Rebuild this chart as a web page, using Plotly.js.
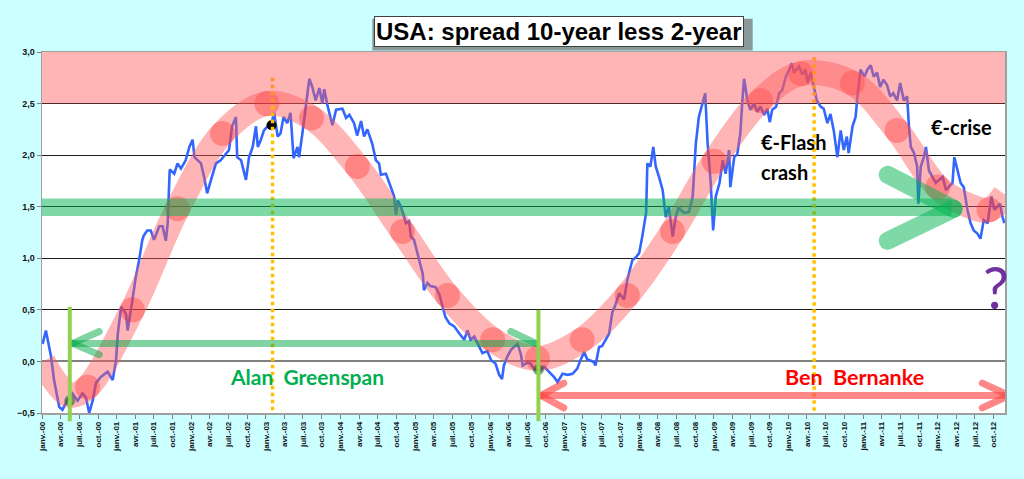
<!DOCTYPE html>
<html>
<head>
<meta charset="utf-8">
<script src="https://cdn.plot.ly/plotly-3.0.1.min.js"></script>
<style>
  html, body { margin: 0; padding: 0; background: #ccffff; }
  #chart { width: 1024px; height: 479px; }
</style>
</head>
<body>
<div id="chart"></div>
<script>
// ---------- DATA ----------
const spreadDates = [
 '2000-01-04','2000-01-20','2000-02-14','2000-02-29','2000-03-25','2000-04-10','2000-05-05','2000-05-29','2000-06-23','2000-07-17',
 '2000-08-03','2000-08-19','2000-09-05','2000-09-21','2000-10-15','2000-11-17','2000-12-12','2000-12-28','2001-01-06','2001-01-22',
 '2001-02-15','2001-02-23','2001-03-18','2001-04-04','2001-04-20','2001-05-06','2001-05-13','2001-05-30','2001-06-16','2001-07-02',
 '2001-07-28','2001-08-13','2001-08-29','2001-09-07','2001-09-15','2001-09-17','2001-10-09','2001-10-25','2001-11-11','2001-12-04',
 '2001-12-22','2002-01-07','2002-01-16','2002-02-01','2002-02-17','2002-03-04','2002-03-19','2002-04-07','2002-05-01','2002-05-24',
 '2002-06-19','2002-07-04','2002-07-19','2002-08-07','2002-08-13','2002-09-01','2002-09-25','2002-10-10','2002-10-28','2002-11-13',
 '2002-11-22','2002-12-07','2002-12-22','2003-01-09','2003-01-25','2003-02-10','2003-02-27','2003-03-13','2003-03-28','2003-04-15',
 '2003-05-01','2003-05-16','2003-06-04','2003-06-12','2003-06-28','2003-07-13','2003-08-01','2003-08-16','2003-09-01','2003-09-19',
 '2003-10-04','2003-10-13','2003-10-28','2003-11-22','2003-12-10','2004-01-10','2004-01-28','2004-02-13','2004-03-07','2004-03-22',
 '2004-04-10','2004-04-25','2004-05-11','2004-06-04','2004-06-22','2004-07-07','2004-07-16','2004-08-10','2004-08-25','2004-09-19',
 '2004-09-28','2004-10-07','2004-10-22','2004-11-16','2004-12-01','2004-12-10','2004-12-25','2005-01-19','2005-02-06','2005-02-12',
 '2005-03-01','2005-03-16','2005-04-10','2005-04-28','2005-05-13','2005-05-28','2005-06-16','2005-07-10','2005-08-04','2005-08-28',
 '2005-09-13','2005-09-28','2005-10-16','2005-11-10','2005-11-25','2005-12-19','2006-01-07','2006-01-28','2006-02-15','2006-03-01',
 '2006-03-10','2006-03-25','2006-04-13','2006-04-28','2006-05-16','2006-06-01','2006-06-10','2006-07-04','2006-07-19','2006-08-04',
 '2006-08-28','2006-09-22','2006-10-16','2006-11-10','2006-11-28','2006-12-22','2007-01-16','2007-02-09','2007-03-04','2007-03-19',
 '2007-04-07','2007-04-22','2007-05-07','2007-05-25','2007-06-01','2007-06-19','2007-07-04','2007-07-19','2007-08-07','2007-08-22',
 '2007-09-07','2007-09-25','2007-10-19','2007-11-04','2007-11-22','2007-11-28','2007-12-16','2008-01-01','2008-01-16','2008-02-04',
 '2008-02-10','2008-02-25','2008-03-10','2008-03-22','2008-04-07','2008-04-25','2008-05-10','2008-05-25','2008-06-13','2008-06-28',
 '2008-07-13','2008-07-22','2008-08-07','2008-09-01','2008-09-19','2008-10-04','2008-10-19','2008-11-07','2008-11-19','2008-12-01',
 '2008-12-16','2008-12-28','2009-01-10','2009-01-28','2009-02-13','2009-02-27','2009-03-16','2009-03-22','2009-04-10','2009-04-25',
 '2009-05-10','2009-05-19','2009-05-28','2009-06-04','2009-06-13','2009-06-28','2009-07-16','2009-08-01','2009-08-16','2009-09-04',
 '2009-09-19','2009-10-01','2009-10-13','2009-11-01','2009-11-16','2009-12-01','2009-12-19','2010-01-04','2010-01-16','2010-01-28',
 '2010-02-21','2010-03-10','2010-03-25','2010-04-04','2010-04-19','2010-05-04','2010-05-19','2010-06-07','2010-06-22','2010-07-10',
 '2010-07-25','2010-08-10','2010-08-28','2010-09-13','2010-09-28','2010-10-13','2010-10-22','2010-11-10','2010-11-25','2010-12-04',
 '2010-12-19','2011-01-07','2011-01-22','2011-02-07','2011-02-22','2011-03-10','2011-03-25','2011-04-10','2011-04-28','2011-05-13',
 '2011-05-28','2011-06-16','2011-07-01','2011-07-19','2011-08-04','2011-08-13','2011-08-22','2011-09-07','2011-09-22','2011-09-28',
 '2011-10-10','2011-10-25','2011-11-04','2011-11-19','2011-12-07','2011-12-22','2012-01-07','2012-01-25','2012-02-10','2012-02-24',
 '2012-03-13','2012-03-22','2012-04-07','2012-04-22','2012-05-07','2012-05-25','2012-06-10','2012-06-25','2012-07-13','2012-07-28',
 '2012-08-13','2012-09-01','2012-09-19','2012-10-04','2012-10-19','2012-11-01','2012-11-13','2012-11-22'
];
const spreadValues = [
 0.17,0.30,0.05,-0.18,-0.44,-0.47,-0.37,-0.31,-0.38,-0.31,
 -0.35,-0.50,-0.38,-0.21,-0.15,-0.10,-0.18,0.01,0.27,0.53,
 0.46,0.30,0.59,0.82,0.98,1.18,1.22,1.27,1.27,1.18,
 1.31,1.31,1.17,1.34,1.76,1.86,1.82,1.92,1.87,1.95,
 2.08,2.15,1.98,1.95,1.92,1.79,1.63,1.76,1.92,1.95,
 2.02,2.05,2.28,2.37,1.98,1.95,1.76,1.98,2.08,2.28,
 2.08,2.15,2.24,2.28,2.29,2.41,2.18,2.21,2.37,2.31,
 2.41,1.97,2.08,1.98,2.21,2.44,2.74,2.66,2.53,2.65,
 2.50,2.64,2.49,2.29,2.44,2.45,2.36,2.39,2.31,2.19,
 2.33,2.18,2.25,2.11,1.95,1.92,1.81,1.82,1.73,1.60,
 1.42,1.56,1.50,1.34,1.36,1.21,1.18,0.98,0.85,0.69,
 0.76,0.73,0.72,0.65,0.53,0.43,0.37,0.34,0.27,0.21,
 0.30,0.21,0.24,0.14,0.08,0.10,0.01,-0.02,-0.13,-0.17,
 -0.04,0.04,0.11,0.14,0.17,0.07,-0.04,-0.01,-0.02,-0.07,
 -0.10,-0.05,-0.10,-0.15,-0.20,-0.12,-0.13,-0.12,-0.07,0.01,
 0.09,0.02,0.01,-0.01,-0.04,0.14,0.15,0.21,0.27,0.47,
 0.55,0.66,0.60,0.79,0.92,0.98,1.01,1.05,1.21,1.44,
 1.92,1.89,2.08,1.89,1.79,1.66,1.40,1.50,1.21,1.40,
 1.50,1.47,1.44,1.45,1.60,2.11,2.37,2.50,2.60,2.11,
 1.73,1.27,1.60,1.73,1.95,1.82,2.05,1.69,1.98,2.01,
 2.21,2.50,2.74,2.66,2.53,2.44,2.50,2.42,2.47,2.39,
 2.45,2.32,2.44,2.47,2.60,2.63,2.76,2.83,2.89,2.80,
 2.86,2.78,2.83,2.70,2.80,2.67,2.53,2.47,2.45,2.31,
 2.40,2.24,1.98,2.24,2.05,2.18,2.02,2.28,2.37,2.57,
 2.83,2.76,2.83,2.87,2.76,2.80,2.66,2.73,2.68,2.57,
 2.60,2.53,2.70,2.53,2.57,2.28,2.08,2.02,1.89,1.53,
 1.89,1.98,2.08,1.85,1.79,1.73,1.76,1.79,1.66,1.69,
 1.73,1.98,1.86,1.73,1.69,1.47,1.34,1.27,1.24,1.19,
 1.37,1.34,1.60,1.47,1.50,1.53,1.40,1.34
];

// hand-drawn pink "cycle" band (centre line)
const cycleDates = ['2000-01-06','2000-03-08','2000-05-20','2000-08-11','2001-03-18','2001-10-25','2002-06-02','2003-01-05',
 '2003-08-12','2004-03-23','2004-10-30','2005-06-07','2006-01-14','2006-08-21','2007-03-28','2007-11-04','2008-06-12',
 '2009-01-02','2009-08-17','2010-03-02','2010-11-09','2011-06-16','2012-01-01','2012-05-20','2012-09-08','2012-11-24'];
const cycleValues = [0.00,-0.20,-0.33,-0.25,0.50,1.48,2.21,2.50,
 2.36,1.89,1.26,0.64,0.21,0.03,0.21,0.64,1.26,
 1.94,2.53,2.79,2.70,2.24,1.69,1.52,1.47,1.62];

// red dots along the band
const dotDates = ['2000-08-11','2001-03-18','2001-10-25','2002-06-02','2003-01-05','2003-08-12','2004-03-23','2004-10-30',
 '2005-06-07','2006-01-14','2006-08-21','2007-03-28','2007-11-04','2008-06-12','2009-01-02','2009-08-17','2010-03-02',
 '2010-11-09','2011-06-16','2012-01-01','2012-09-08'];
const dotValues = [-0.25,0.50,1.48,2.21,2.50,2.36,1.89,1.26,
 0.64,0.21,0.03,0.21,0.64,1.26,1.94,2.53,2.79,
 2.70,2.24,1.69,1.47];

// black marker, dark green markers
const blackDotDates = ['2003-01-28'];
const blackDotValues = [2.29];
const greenDotDates = ['2000-05-16','2006-08-26'];
const greenDotValues = [-0.38,-0.08];

// tick labels
const tickMonthNames = ['janv.','avr.','juil.','oct.'];
const tickMonthNums = ['01','04','07','10'];
const tickYears = ['00','01','02','03','04','05','06','07','08','09','10','11','12'];

// ---------- BUILD ----------
const X_RANGE = ['2000-01-01', '2012-11-25'];
const Y_RANGE = [-0.5, 3.0];
function yp(v) { return (v - Y_RANGE[0]) / (Y_RANGE[1] - Y_RANGE[0]); }

const tickvals = [], ticktext = [];
tickYears.forEach(y => {
  tickMonthNums.forEach((m, i) => {
    tickvals.push('20' + y + '-' + m + '-01');
    ticktext.push(tickMonthNames[i] + '-' + y);
  });
});

const traces = [
  { type: 'scatter', mode: 'lines', x: spreadDates, y: spreadValues,
    line: { color: '#3366ff', width: 2.6 }, hoverinfo: 'skip' },
  { type: 'scatter', mode: 'markers', x: blackDotDates, y: blackDotValues,
    marker: { color: '#000', size: 10 }, hoverinfo: 'skip' },
  { type: 'scatter', mode: 'lines', x: cycleDates, y: cycleValues,
    line: { color: 'rgba(255,90,90,0.45)', width: 25, shape: 'spline', smoothing: 1 }, hoverinfo: 'skip' },
  { type: 'scatter', mode: 'markers', x: dotDates, y: dotValues,
    marker: { color: 'rgba(255,40,40,0.35)', size: 25, line: { width: 0 } }, hoverinfo: 'skip' },
  { type: 'scatter', mode: 'markers', x: greenDotDates, y: greenDotValues,
    marker: { color: 'rgba(20,100,30,0.55)', size: 11, line: { width: 0 } }, hoverinfo: 'skip' }
];

const shapes = [];
const roundIdx = [];
function seg(x0, y0, x1, y1, color, width, opts) {
  opts = opts || {};
  const paperY = !!opts.paperY;
  shapes.push({
    type: 'line', xref: 'x', yref: paperY ? 'paper' : 'y',
    x0: x0, x1: x1,
    y0: paperY ? yp(y0) : y0, y1: paperY ? yp(y1) : y1,
    line: { color: color, width: width, dash: opts.dash || 'solid' },
    layer: 'above'
  });
  if (opts.round) roundIdx.push(shapes.length - 1);
}

// title box shadow (decoration, paper coordinates)
shapes.push({ type: 'rect', xref: 'paper', yref: 'paper', x0: 0.343, x1: 0.738, y0: 1.004, y1: 1.092,
  fillcolor: '#8a9a9a', line: { width: 0 }, layer: 'above' });

// orange dotted event lines
seg('2003-02-02', 2.75, '2003-02-02', -0.5, '#ffc000', 3.5, { dash: 'dot' });
seg('2010-05-06', 2.95, '2010-05-06', -0.5, '#ffc000', 3.5, { dash: 'dot' });

// pink zone 2.5 - 3.0
shapes.push({ type: 'rect', xref: 'x', yref: 'y', x0: X_RANGE[0], x1: X_RANGE[1], y0: 2.5, y1: 3.0,
  fillcolor: 'rgba(255,90,90,0.45)', line: { width: 0 }, layer: 'above' });
// green band around 1.5
shapes.push({ type: 'rect', xref: 'x', yref: 'y', x0: X_RANGE[0], x1: '2012-03-08', y0: 1.41, y1: 1.58,
  fillcolor: 'rgba(0,180,80,0.5)', line: { width: 0 }, layer: 'above' });
// big green arrow head
const G = 'rgba(0,180,80,0.5)';
seg('2011-05-01', 1.81, '2012-03-19', 1.48, G, 18, { round: true });
seg('2011-05-01', 1.17, '2012-03-19', 1.48, G, 18, { round: true });

// Greenspan arrow
const GA = 'rgba(0,170,70,0.5)';
seg('2000-05-30', 0.175, '2006-08-13', 0.175, GA, 7, { round: true });
seg('2000-05-30', 0.175, '2000-10-07', 0.29, GA, 7, { round: true });
seg('2000-05-30', 0.175, '2000-10-07', 0.065, GA, 7, { round: true });
seg('2006-04-13', 0.29, '2006-08-13', 0.175, GA, 7, { round: true });

// Bernanke arrow
const RA = 'rgba(255,70,70,0.65)';
seg('2006-09-07', -0.33, '2012-12-15', -0.33, RA, 7, { round: true, paperY: true });
seg('2006-09-07', -0.33, '2006-12-28', -0.21, RA, 7, { round: true, paperY: true });
seg('2006-09-07', -0.33, '2006-12-28', -0.45, RA, 7, { round: true, paperY: true });
seg('2012-08-06', -0.21, '2012-12-15', -0.33, RA, 7, { round: true, paperY: true });
seg('2012-08-06', -0.45, '2012-12-15', -0.33, RA, 7, { round: true, paperY: true });

// light green vertical markers
seg('2000-05-16', 0.53, '2000-05-16', -0.58, '#92d050', 4, { paperY: true });
seg('2006-08-26', 0.50, '2006-08-26', -0.58, '#92d050', 4, { paperY: true });

const bold = 'bold';
const textFont = 'Lato, Carlito, Calibri, sans-serif';
const annotations = [
  { xref: 'paper', yref: 'paper', x: 0.537, y: 1.058, xanchor: 'center', yanchor: 'middle', showarrow: false,
    text: 'USA: spread 10-year less 2-year',
    font: { family: 'Liberation Sans, Arial, sans-serif', size: 24, color: '#000', weight: bold },
    bgcolor: '#ffffff', bordercolor: '#404040', borderwidth: 1, borderpad: 1 },
  { x: '2003-07-23', y: -0.15, text: 'Alan&nbsp;&nbsp;Greenspan', showarrow: false,
    font: { family: textFont, size: 21, color: '#00b050', weight: bold } },
  { x: '2010-11-21', y: -0.15, text: 'Ben&nbsp;&nbsp;Bernanke', showarrow: false,
    font: { family: textFont, size: 21.5, color: '#ff0000', weight: bold } },
  { x: '2009-08-07', y: 2.13, xanchor: 'left', text: '€-Flash', showarrow: false,
    font: { family: textFont, size: 20, color: '#000', weight: bold } },
  { x: '2009-08-07', y: 1.84, xanchor: 'left', text: 'crash', showarrow: false,
    font: { family: textFont, size: 20, color: '#000', weight: bold } },
  { x: '2011-11-18', y: 2.27, xanchor: 'left', text: '€-crise', showarrow: false,
    font: { family: textFont, size: 20, color: '#000', weight: bold } },
  { x: '2012-10-10', y: 0.73, text: '?', showarrow: false,
    font: { family: textFont, size: 58, color: '#7030a0' } }
];

const layout = {
  width: 1024, height: 479,
  paper_bgcolor: '#ccffff', plot_bgcolor: '#ffffff',
  margin: { l: 42, r: 19, t: 52, b: 66 },
  separators: ', ',
  showlegend: false,
  hovermode: false,
  xaxis: {
    type: 'date', range: X_RANGE, tickmode: 'array', tickvals: tickvals, ticktext: ticktext,
    tickangle: -90, ticks: 'outside', ticklen: 4, tickcolor: '#808080',
    showgrid: false, zeroline: false, showline: true, mirror: true, linecolor: '#a0a0a0', linewidth: 1.5,
    tickfont: { family: 'Liberation Sans, Arial, sans-serif', size: 8, color: '#111', weight: bold },
    fixedrange: true
  },
  yaxis: {
    range: Y_RANGE, tick0: 0, dtick: 0.5, tickformat: '.1f',
    showgrid: true, gridcolor: '#1a1a1a', gridwidth: 1,
    zeroline: true, zerolinecolor: '#808080', zerolinewidth: 2,
    showline: true, mirror: true, linecolor: '#a0a0a0', linewidth: 1.5,
    ticks: 'outside', ticklen: 4, tickcolor: '#808080',
    tickfont: { family: 'Liberation Sans, Arial, sans-serif', size: 9, color: '#111', weight: bold },
    fixedrange: true
  },
  shapes: shapes,
  annotations: annotations
};

Plotly.newPlot('chart', traces, layout, { displayModeBar: false, staticPlot: true }).then(() => {
  document.querySelectorAll('.shapelayer path').forEach(p => {
    const idx = parseInt(p.getAttribute('data-index'), 10);
    if (roundIdx.indexOf(idx) >= 0) p.style.strokeLinecap = 'round';
  });
});
</script>
</body>
</html>
